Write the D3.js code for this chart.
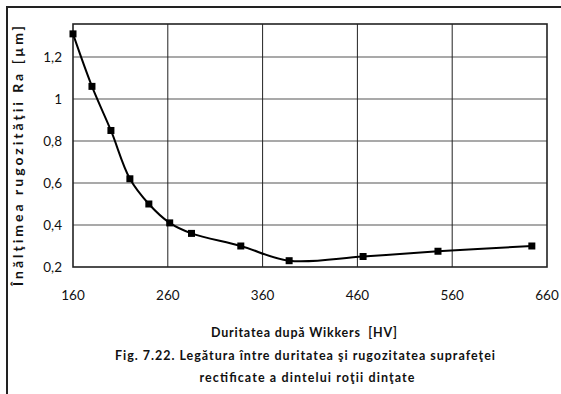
<!DOCTYPE html>
<html>
<head>
<meta charset="utf-8">
<script src="https://cdn.jsdelivr.net/npm/d3@7"></script>
<style>
  html, body { margin: 0; padding: 0; background: #fff; }
  svg { display: block; }
  .tick-label { font-family: Lato, "Open Sans", sans-serif; font-size: 13.5px; fill: #111; }
  .title { font-family: Lato, "Open Sans", sans-serif; font-weight: bold; font-size: 12.5px; fill: #111; white-space: pre; }
  .title.y { font-size: 14px; }
</style>
</head>
<body>
<svg id="chart" width="561" height="394"></svg>
<script>
// Hardness (HV) versus surface roughness Ra (µm)
const hardness = [160, 180, 200, 220, 240, 262, 285, 337, 388, 466, 545, 644];
const roughness = [1.31, 1.06, 0.85, 0.62, 0.50, 0.41, 0.36, 0.30, 0.23, 0.25, 0.275, 0.30];
const xTicks = [160, 260, 360, 460, 560, 660];
const yTicks = [0.2, 0.4, 0.6, 0.8, 1.0, 1.2];
const xTitle = "Duritatea după Wikkers  [HV]";
const yTitle = "Înălţimea rugozităţii Ra [µm]";
const caption = ["Fig. 7.22. Legătura între duritatea şi rugozitatea suprafeţei",
                 "rectificate a dintelui roţii dinţate"];

const svg = d3.select("#chart");
const plot = { left: 73, right: 547, top: 24, bottom: 267 };

const x = d3.scaleLinear().domain([160, 660]).range([plot.left, plot.right]);
const y = d3.scaleLinear().domain([0.2, 1.357]).range([plot.bottom, plot.top]);

// outer frame
svg.append("path")
  .attr("d", "M7,400 L7,7 L570,7")
  .attr("fill", "none").attr("stroke", "#222").attr("stroke-width", 2);

// horizontal grid
svg.append("g").selectAll("line").data(yTicks.slice(1)).join("line")
  .attr("x1", plot.left).attr("x2", plot.right)
  .attr("y1", d => y(d)).attr("y2", d => y(d))
  .attr("stroke", "#8c8c8c").attr("stroke-width", 1.6);

// vertical grid
svg.append("g").selectAll("line").data(xTicks.slice(1, -1)).join("line")
  .attr("x1", d => x(d)).attr("x2", d => x(d))
  .attr("y1", plot.top).attr("y2", plot.bottom)
  .attr("stroke", "#222").attr("stroke-width", 1);

// plot frame
svg.append("rect")
  .attr("x", plot.left).attr("y", plot.top)
  .attr("width", plot.right - plot.left).attr("height", plot.bottom - plot.top)
  .attr("fill", "none").attr("stroke", "#222").attr("stroke-width", 1.6);

// axis labels
const fmt = d => d3.format("~g")(d).replace(".", ",");
svg.append("g").selectAll("text").data(yTicks).join("text")
  .attr("class", "tick-label")
  .attr("x", 62).attr("y", d => y(d))
  .attr("text-anchor", "end").attr("dominant-baseline", "central")
  .text(fmt);

svg.append("g").selectAll("text").data(xTicks).join("text")
  .attr("class", "tick-label")
  .attr("x", d => x(d)).attr("y", 295)
  .attr("text-anchor", "middle").attr("dominant-baseline", "central")
  .text(d => d);

// smoothed data line
const line = d3.line()
  .x((d, i) => x(hardness[i]))
  .y(d => y(d))
  .curve(d3.curveCatmullRom.alpha(0.5));
svg.append("path")
  .datum(roughness)
  .attr("d", line)
  .attr("fill", "none").attr("stroke", "#000").attr("stroke-width", 2);

// square markers
const m = 7;
svg.append("g").selectAll("rect").data(roughness).join("rect")
  .attr("x", (d, i) => x(hardness[i]) - m / 2)
  .attr("y", d => y(d) - m / 2)
  .attr("width", m).attr("height", m)
  .attr("fill", "#000");

// titles, letter-spaced out to their set widths
svg.append("text").attr("class", "title")
  .attr("x", 304).attr("y", 332)
  .attr("text-anchor", "middle").attr("dominant-baseline", "central")
  .attr("textLength", 186).attr("lengthAdjust", "spacing")
  .text(xTitle);

svg.append("text").attr("class", "title y")
  .attr("transform", "translate(17,156) rotate(-90)")
  .attr("text-anchor", "middle").attr("dominant-baseline", "central")
  .attr("textLength", 260).attr("lengthAdjust", "spacing")
  .text(yTitle);

const capWidths = [380, 215];
svg.append("g").selectAll("text").data(caption).join("text")
  .attr("class", "title")
  .attr("x", (d, i) => i === 0 ? 305 : 307).attr("y", (d, i) => 355 + i * 22)
  .attr("text-anchor", "middle").attr("dominant-baseline", "central")
  .attr("textLength", (d, i) => capWidths[i]).attr("lengthAdjust", "spacing")
  .text(d => d);
</script>
</body>
</html>
